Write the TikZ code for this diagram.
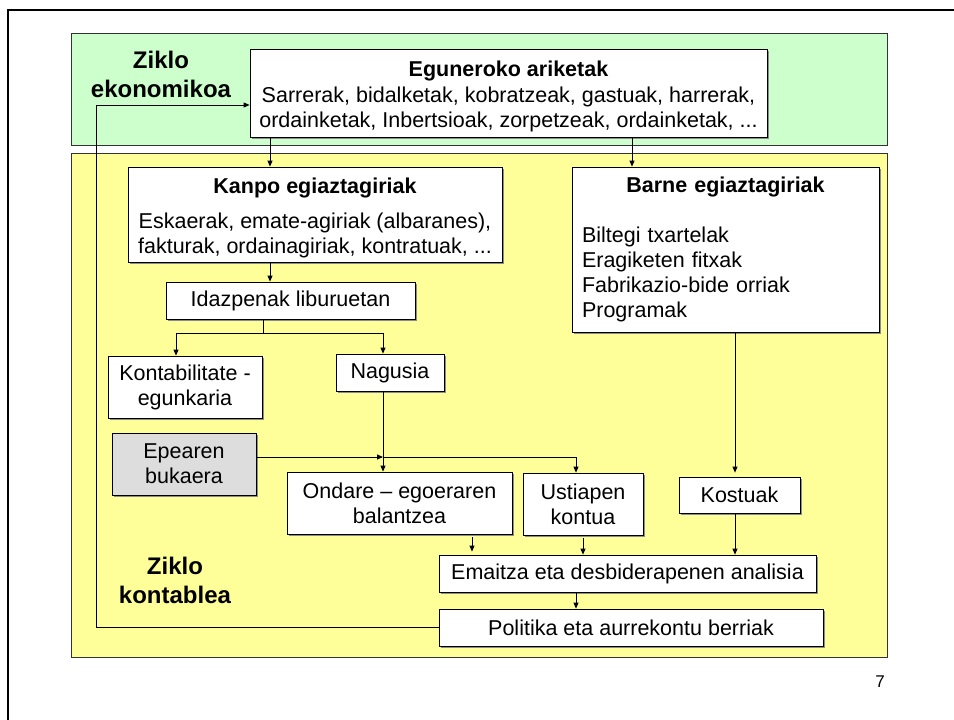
\documentclass[tikz,border=0pt]{standalone}
\usepackage{fontspec}
\setmainfont{Liberation Sans}
\usetikzlibrary{
    positioning,
    arrows.meta,
    shadows
}

\definecolor{zone_green}{HTML}{CCFFCC}
\definecolor{zone_yellow}{HTML}{FFFF99}
\definecolor{end_gray}{HTML}{DDDDDD}

\begin{document}
\begin{tikzpicture}[
    x=1pt, y=-1pt,
    % Node styles
    box/.style={rectangle, draw=black, fill=white, line width=0.8pt, inner sep=0pt, align=center,
        font=\fontsize{21.5}{25}\selectfont,
        drop shadow={shadow xshift=1.5pt, shadow yshift=-1.5pt, fill=black!45, opacity=1}},
    end_box/.style={box, fill=end_gray},
    zone/.style={draw=black!80, line width=0.8pt},
    zone_label/.style={align=center, font=\fontsize{24}{29}\selectfont\bfseries},
    % Arrow styles
    arrow/.style={-{Triangle[length=6pt, width=5pt]}, line width=0.8pt, draw=black},
    gap_arrow/.style={arrow, shorten <=3pt, shorten >=3pt}
]
\useasboundingbox (0,0) rectangle (954,720);

% --- SLIDE FRAME ---
\draw[line width=2pt] (8,720) -- (8,10) -- (954,10);

% --- ZONES ---
\draw[zone, fill=zone_green] (71,33) rectangle (887,145);
\draw[zone, fill=zone_yellow] (71,153) rectangle (887,657);
\node[zone_label] (eko) at (161,74) {Ziklo\\ekonomikoa};
\node[zone_label] (kontablea) at (175,580) {Ziklo\\kontablea};

% --- ZIKLO EKONOMIKOA ---
\node[box, minimum width=517pt, minimum height=88pt] (egun) at (508.5,93)
    {\rule{0pt}{23pt}\textbf{Eguneroko ariketak}\\[1pt]
     Sarrerak, bidalketak, kobratzeak, gastuak, harrerak,\\
     ordainketak, Inbertsioak, zorpetzeak, ordainketak, ...};

% --- EGIAZTAGIRIAK ---
\node[box, minimum width=374pt, minimum height=95pt] (kanpo) at (315,214.5)
    {\rule{0pt}{21.5pt}\textbf{Kanpo egiaztagiriak}\\[10pt]
     Eskaerak, emate-agiriak (albaranes),\\
     fakturak, ordainagiriak, kontratuak, ...};
\node[box, text width=287pt, inner xsep=10pt, align=left, minimum height=165pt] (barne) at (725.5,249.5)
    {\makebox[287pt]{\textbf{Barne egiaztagiriak}}\\[25pt]
     Biltegi txartelak\\
     Eragiketen fitxak\\
     Fabrikazio-bide orriak\\
     Programak};
\coordinate (col_kanpo) at (270,0);
\coordinate (col_barne) at (632,0);
\draw[arrow] (egun.south -| col_kanpo) -- (kanpo.north -| col_kanpo);
\draw[arrow] (egun.south -| col_barne) -- (barne.north -| col_barne);

% --- LIBURUAK ---
\node[box, minimum width=249pt, minimum height=37pt] (idaz) at (290.5,300.5) {Idazpenak liburuetan};
\node[box, minimum width=154pt, minimum height=62pt] (kontab) at (185,387) {Kontabilitate -\\egunkaria};
\node[box, minimum width=108pt, minimum height=37pt] (nagusia) at (390,372.5) {Nagusia};
\draw[arrow] (kanpo.south -| col_kanpo) -- (idaz.north -| col_kanpo);
\coordinate (j_idaz) at (263,333);
\coordinate (col_kontab) at (176,0);
\coordinate (col_nagusia) at (383,0);
\draw[arrow] (idaz.south -| j_idaz) -- (j_idaz) -| (kontab.north -| col_kontab);
\draw[arrow] (j_idaz) -| (nagusia.north -| col_nagusia);

% --- EPEAREN BUKAERA ---
\node[end_box, minimum width=144pt, minimum height=62pt] (epearen) at (184,464) {Epearen\\bukaera};
\node[box, minimum width=225pt, minimum height=62pt] (ondare) at (399.5,503) {Ondare – egoeraren\\balantzea};
\node[box, minimum width=120pt, minimum height=62pt] (ustiapen) at (583,504) {Ustiapen\\kontua};
\node[box, minimum width=121pt, minimum height=36pt] (kostuak) at (739.5,495) {Kostuak};
\coordinate (j_epe) at (383,457);
\coordinate (j_ust) at (576,457);
\draw[arrow] (nagusia.south -| col_nagusia) -- (ondare.north -| col_nagusia);
\draw[arrow] (epearen.east |- j_epe) -- (j_epe);
\draw[arrow] (j_epe) -- (j_ust) -- (ustiapen.north -| j_ust);
\coordinate (col_kostu) at (735,0);
\draw[arrow, shorten >=4pt] (barne.south -| col_kostu) -- (kostuak.north -| col_kostu);

% --- EMAITZAK ---
\node[box, minimum width=377pt, minimum height=37pt] (emaitza) at (627.5,573.5) {Emaitza eta desbiderapenen analisia};
\node[box, minimum width=384pt, minimum height=37pt] (politika) at (631,627.5) {Politika eta aurrekontu berriak};
\coordinate (col_ondare) at (472,0);
\coordinate (col_politika) at (576,0);
\draw[gap_arrow] (ondare.south -| col_ondare) -- (emaitza.north -| col_ondare);
\draw[arrow, shorten <=3pt] (ustiapen.south) -- (emaitza.north -| ustiapen.south);
\draw[arrow] (kostuak.south -| col_kostu) -- (emaitza.north -| col_kostu);
\draw[arrow] (emaitza.south -| col_politika) -- (politika.north -| col_politika);

% --- ITZULERA (feedback) ---
\coordinate (fb_bot) at (96,627.5);
\coordinate (fb_top) at (96,105);
\draw[arrow] (politika.west) -- (fb_bot) -- (fb_top) -- (egun.west |- fb_top);

% --- ORRI ZENBAKIA ---
\node[font=\fontsize{17}{20}\selectfont] (orria) at (880,682) {7};

\end{tikzpicture}
\end{document}
